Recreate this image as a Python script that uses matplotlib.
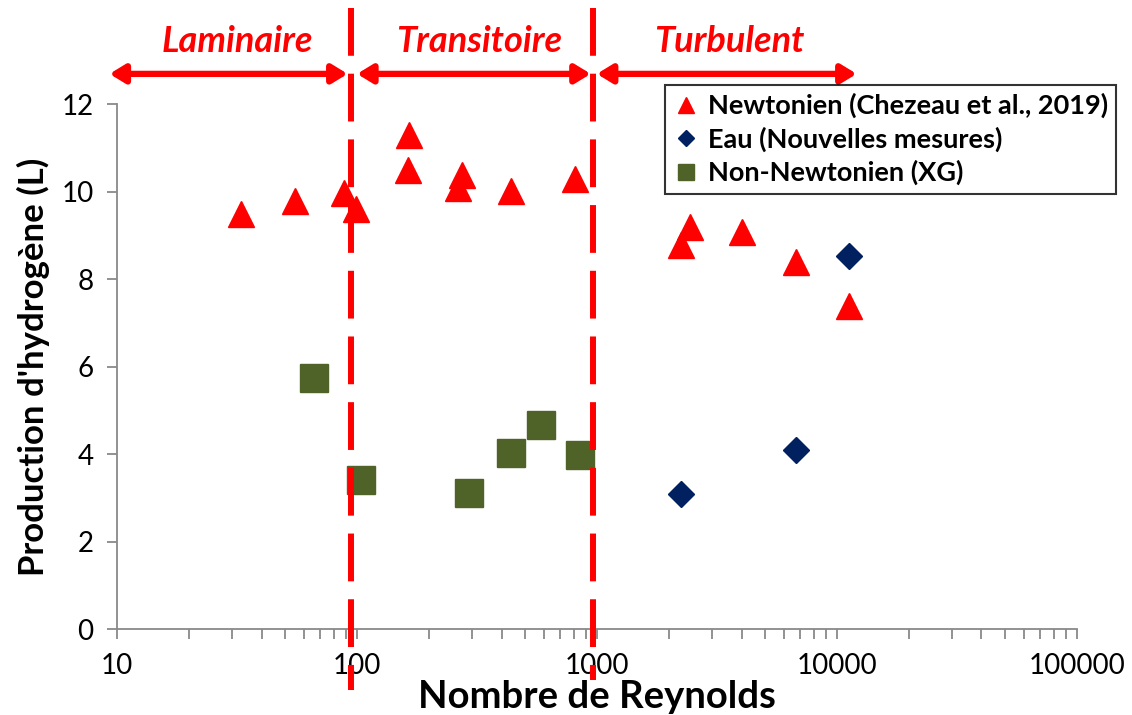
import numpy as np
import matplotlib
matplotlib.use("Agg")
import matplotlib.pyplot as plt
import matplotlib.transforms as mtransforms

plt.rcParams['font.family'] = ['Lato', 'DejaVu Sans']

# Newtonien (Chezeau et al., 2019)
re_newt = [33, 55, 88, 99, 165, 163, 273, 263, 438, 807, 2430, 2240, 4030, 6730, 11200]
h2_newt = [9.49, 9.79, 9.98, 9.6, 11.29, 10.51, 10.39, 10.09, 10.02, 10.29, 9.2, 8.78, 9.08, 8.4, 7.4]

# Eau (Nouvelles mesures)
re_eau = [11200, 6730, 2240]
h2_eau = [8.53, 4.09, 3.09]

# Non-Newtonien (XG)
re_xg = [66, 104, 294, 440, 586, 851]
h2_xg = [5.75, 3.42, 3.12, 4.04, 4.66, 3.99]

# regime limits (drawn shapes) and labels
limits = [94, 960]
regimes = ["Laminaire", "Transitoire", "Turbulent"]
regime_spans = [(9.3, 91.4), (100, 942), (998, 12080)]
regime_text_x = [31.8, 324, 3573]

grey = "#898989"

fig = plt.figure(figsize=(11.32, 7.15), dpi=100)
ax = fig.add_axes([0.1034, 0.1199, 0.848, 0.7342])

ax.plot(re_newt, h2_newt, linestyle="none", marker="^", ms=18.5,
        color="#FF0000", label="Newtonien (Chezeau et al., 2019)", zorder=3)
ax.plot(re_eau, h2_eau, linestyle="none", marker="D", ms=13,
        color="#002060", label="Eau (Nouvelles mesures)", zorder=3)
ax.plot(re_xg, h2_xg, linestyle="none", marker="s", ms=19.5,
        color="#4F6228", label="Non-Newtonien (XG)", zorder=3)

ax.set_xscale("log")
ax.set_xlim(10, 100000)
ax.set_ylim(0, 12)
ax.set_yticks(range(0, 13, 2))
ax.set_xticks([10, 100, 1000, 10000, 100000])
ax.set_xticklabels(["10", "100", "1000", "10000", "100000"])

for s in ["top", "right"]:
    ax.spines[s].set_visible(False)
for s in ["left", "bottom"]:
    ax.spines[s].set_color(grey)
    ax.spines[s].set_linewidth(1.3)
ax.tick_params(axis="both", which="both", direction="out", color=grey,
               width=1.3, length=7, labelsize=20)
ax.tick_params(axis="x", which="major", pad=10)
ax.tick_params(axis="y", which="major", pad=10)

ax.set_xlabel("Nombre de Reynolds", fontsize=27.5, fontweight="bold", va="baseline")
ax.xaxis.set_label_coords(0.5, -0.15)
ax.set_ylabel("Production d'hydrogène (L)", fontsize=25, fontweight="bold", labelpad=8)

# regime boundaries: dashed red lines crossing the whole plot
trans = mtransforms.blended_transform_factory(ax.transData, ax.transAxes)
ax.plot([limits[0], limits[0]], [1.183, -0.115], transform=trans, clip_on=False,
        color="#FF0000", lw=4.3, dashes=(8, 3), zorder=5)
ax.plot([limits[1], limits[1]], [1.183, -0.096], transform=trans, clip_on=False,
        color="#FF0000", lw=4.3, dashes=(8, 3), zorder=5)

# double arrows and regime names
for name, (x0, x1), xt in zip(regimes, regime_spans, regime_text_x):
    ax.annotate("", xy=(x1, 1.058), xytext=(x0, 1.058), xycoords=trans,
                textcoords=trans, annotation_clip=False,
                arrowprops=dict(arrowstyle="<|-|>,head_length=0.9,head_width=0.55",
                                color="#FF0000", lw=4.5, shrinkA=0, shrinkB=0))
    ax.text(xt, 1.119, name, transform=trans, ha="center", va="center",
            color="#FF0000", fontsize=26, fontweight="bold", fontstyle="italic")

leg = ax.legend(loc="upper left", bbox_to_anchor=(0.5705, 1.0368), borderaxespad=0,
                frameon=True, fancybox=False, markerscale=0.6, handletextpad=0.3,
                handlelength=1.0, borderpad=0.3, labelspacing=0.3,
                prop={"size": 19.5, "weight": "bold"})
leg.get_frame().set_edgecolor("black")
leg.get_frame().set_linewidth(1.5)

fig.savefig("out.png", dpi=100)
